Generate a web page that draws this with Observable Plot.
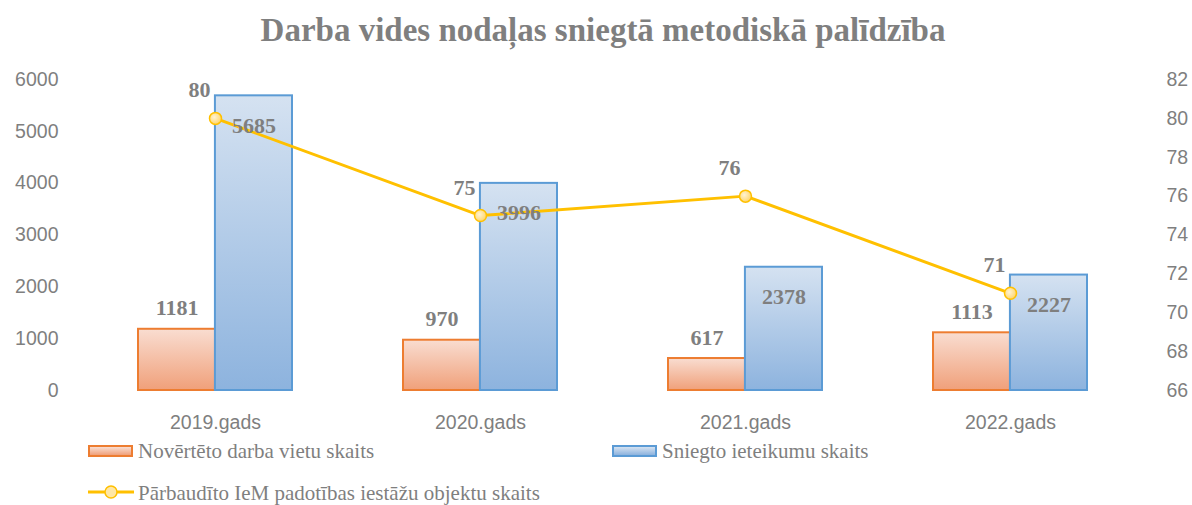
<!DOCTYPE html>
<html><head><meta charset="utf-8">
<script src="https://cdn.jsdelivr.net/npm/d3@7"></script>
<script src="https://cdn.jsdelivr.net/npm/@observablehq/plot@0.6"></script>
<style>
body{margin:0;background:#fff;}
#wrap{position:relative;width:1192px;height:505px;overflow:hidden;font-family:"Liberation Serif",serif;color:#7f7f7f;}
#title{position:absolute;left:0;top:0;width:1206px;height:60px;line-height:60px;text-align:center;font-weight:bold;font-size:33px;}
#chart{position:absolute;left:0;top:60px;}
.leg{position:absolute;font-size:21px;line-height:24px;white-space:nowrap;}
.sw{position:absolute;width:41px;height:8px;border:2px solid;}
</style></head><body>
<div id="wrap">
  <div id="title">Darba vides nodaļas sniegtā metodiskā palīdzība</div>
  <div id="chart"></div>
  <div id="legend"></div>
</div>
<script>
const categories = ["2019.gads", "2020.gads", "2021.gads", "2022.gads"];
const workplaces = [1181, 970, 617, 1113];
const recommendations = [5685, 3996, 2378, 2227];
const objects = [80, 75, 76, 71];
const leftTicks = [0, 1000, 2000, 3000, 4000, 5000, 6000];
const rightTicks = [66, 68, 70, 72, 74, 76, 78, 80, 82];
const seriesNames = ["Novērtēto darba vietu skaits", "Sniegto ieteikumu skaits", "Pārbaudīto IeM padotības iestāžu objektu skaits"];

const W = 1192, H = 375, mt = 19, mb = 45, ml = 82, mr = 49;
const pInner = 0.42, pOuter = 0.21;
const step = (W - ml - mr) / (categories.length - pInner + 2 * pOuter);
const half = step * (1 - pInner) / 2;
const yMax = 6000, rMin = 66, rMax = 82;
const toLeft = v => (v - rMin) / (rMax - rMin) * yMax;
const fromLeft = d => String(Math.round(rMin + d / yMax * (rMax - rMin)));

const barsA = categories.map((c, i) => ({c, v: workplaces[i]}));
const barsB = categories.map((c, i) => ({c, v: recommendations[i]}));
const lineData = categories.map((c, i) => ({c, v: objects[i]}));

const defs = () => {
  const ns = "http://www.w3.org/2000/svg";
  const d = document.createElementNS(ns, "defs");
  d.innerHTML = `
  <linearGradient id="gO" x1="0" y1="0" x2="0" y2="1"><stop offset="0" stop-color="#f9ddd1"/><stop offset="1" stop-color="#f0a07a"/></linearGradient>
  <linearGradient id="gB" x1="0" y1="0" x2="0" y2="1"><stop offset="0" stop-color="#d5e2f1"/><stop offset="1" stop-color="#8db3de"/></linearGradient>
  <radialGradient id="gY" cx="0.4" cy="0.4" r="0.7"><stop offset="0" stop-color="#fff3d2"/><stop offset="1" stop-color="#ffd25e"/></radialGradient>`;
  return d;
};

const labelStyle = {fontFamily: "Liberation Serif", fontWeight: "bold", fontSize: 22, fill: "#7f7f7f"};

const chart = Plot.plot({
  width: W, height: H,
  marginTop: mt, marginBottom: mb, marginLeft: ml, marginRight: mr,
  style: {fontFamily: "Liberation Sans", fontSize: "19.5px", color: "#7f7f7f", background: "#fff", overflow: "visible"},
  x: {type: "band", domain: categories, paddingInner: pInner, paddingOuter: pOuter, align: 0.5, axis: null, label: null},
  y: {domain: [0, yMax], axis: null, label: null},
  marks: [
    defs,
    Plot.barY(barsA, {x: "c", y: "v", insetRight: half, fill: "url(#gO)", stroke: "#ed7d31", strokeWidth: 2}),
    Plot.barY(barsB, {x: "c", y: "v", insetLeft: half, fill: "url(#gB)", stroke: "#5b9bd5", strokeWidth: 2}),
    Plot.axisY(leftTicks, {anchor: "left", tickSize: 0, tickPadding: 24, tickFormat: d => String(d), fill: "#7f7f7f"}),
    Plot.axisY(rightTicks.map(toLeft), {anchor: "right", tickSize: 0, tickPadding: 23, tickFormat: fromLeft, fill: "#7f7f7f"}),
    Plot.axisX({tickSize: 0, tickPadding: 25, fill: "#7f7f7f"}),
    Plot.line(lineData, {x: "c", y: d => toLeft(d.v), stroke: "#ffc000", strokeWidth: 3}),
    Plot.dot(lineData, {x: "c", y: d => toLeft(d.v), r: 6, fill: "url(#gY)", stroke: "#ffc000", strokeWidth: 1.5}),
    Plot.text(barsA, {x: "c", y: "v", text: d => String(d.v), dx: -half / 2, dy: -21, ...labelStyle}),
    Plot.text(barsB, {x: "c", y: "v", text: d => String(d.v), dx: half / 2, dy: 30, ...labelStyle}),
    Plot.text(lineData, {x: "c", y: d => toLeft(d.v), text: d => String(d.v), dx: -16, dy: -28, ...labelStyle})
  ]
});
document.getElementById("chart").appendChild(chart);

const leg = document.getElementById("legend");
leg.innerHTML = `
  <div class="sw" style="left:88px;top:445px;border-color:#ed7d31;background:linear-gradient(to bottom,#f9ddd1,#f0a07a)"></div>
  <div class="leg" style="left:138px;top:439px">${seriesNames[0]}</div>
  <div class="sw" style="left:612px;top:445px;border-color:#5b9bd5;background:linear-gradient(to bottom,#d5e2f1,#8db3de)"></div>
  <div class="leg" style="left:662px;top:439px">${seriesNames[1]}</div>
  <svg style="position:absolute;left:88px;top:482px" width="46" height="20"><line x1="0" y1="10" x2="46" y2="10" stroke="#ffc000" stroke-width="3"/><circle cx="23" cy="10" r="6" fill="#ffe7a6" stroke="#ffc000" stroke-width="1.5"/></svg>
  <div class="leg" style="left:138px;top:481px">${seriesNames[2]}</div>`;
</script>
</body></html>
